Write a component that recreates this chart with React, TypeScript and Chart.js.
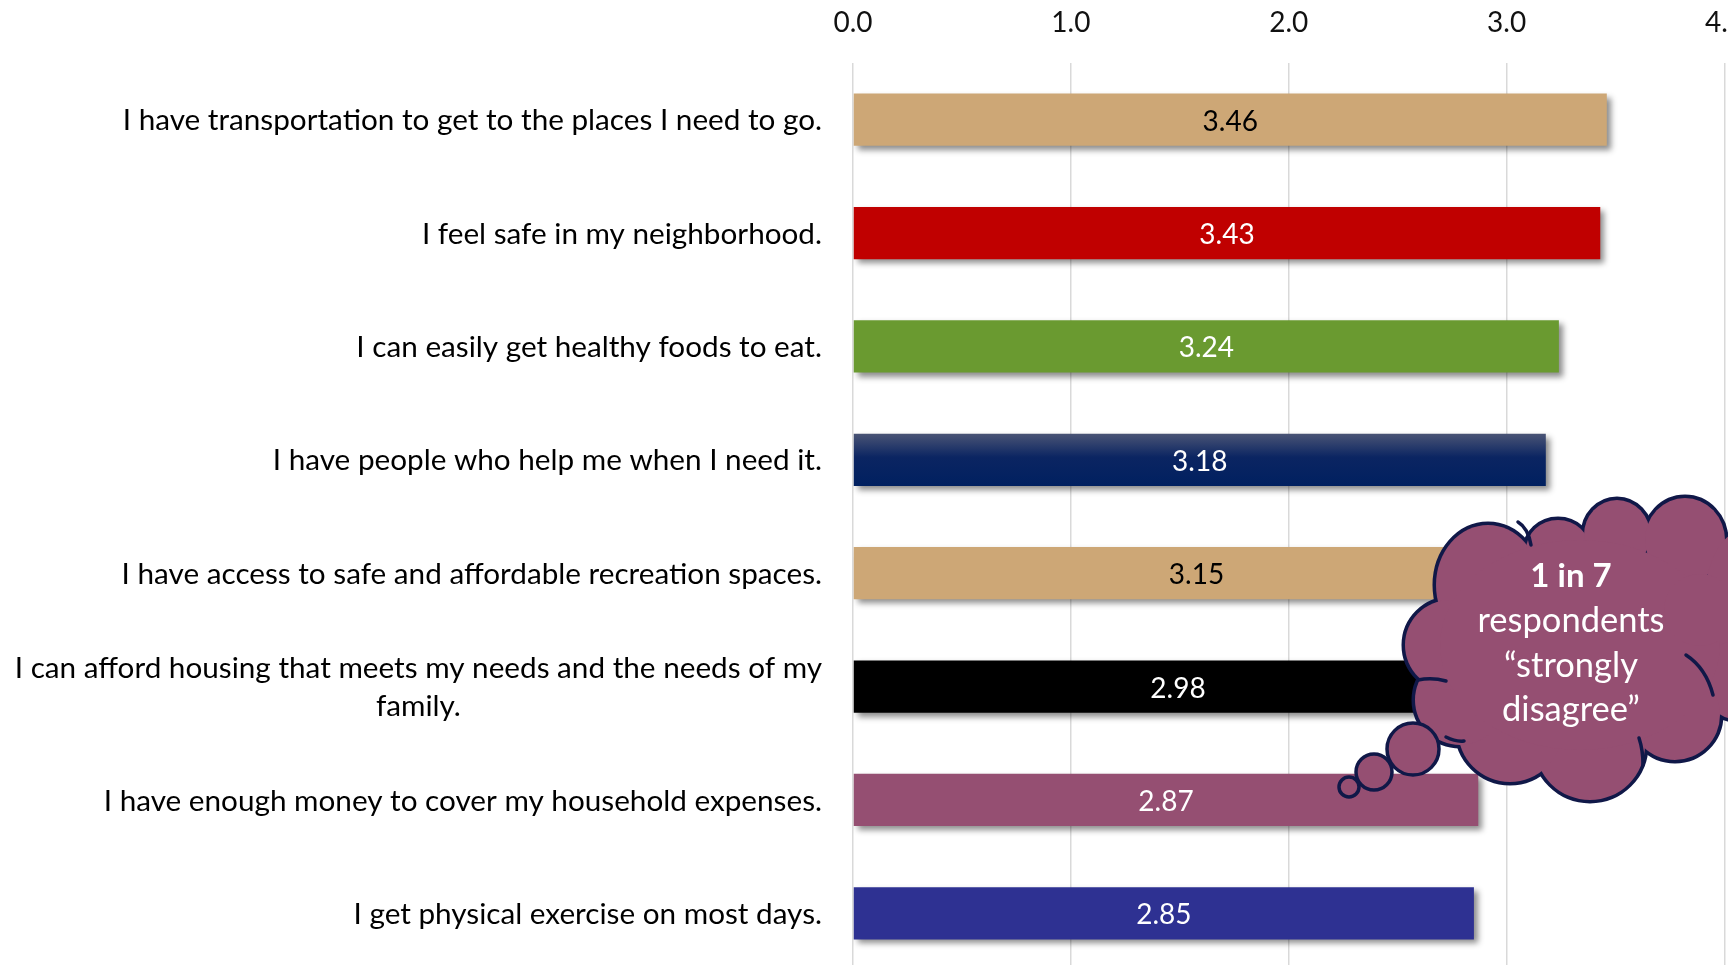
import React, { useEffect, useRef } from "react";
import { Chart, registerables } from "chart.js";

Chart.register(...registerables);

// ---------- data ----------
const categories: string[][] = [
  ["I have transportation to get to the places I need to go."],
  ["I feel safe in my neighborhood."],
  ["I can easily get healthy foods to eat."],
  ["I have people who help me when I need it."],
  ["I have access to safe and affordable recreation spaces."],
  ["I can afford housing that meets my needs and the needs of my", "family."],
  ["I have enough money to cover my household expenses."],
  ["I get physical exercise on most days."],
];
const values = [3.46, 3.43, 3.24, 3.18, 3.15, 2.98, 2.87, 2.85];
const barColors = ["#CDA776", "#C00000", "#6A9A30", "#002060", "#CDA776", "#000000", "#954F72", "#2E3192"];
const valueLabelColors = ["#000000", "#ffffff", "#ffffff", "#ffffff", "#000000", "#ffffff", "#ffffff", "#ffffff"];
const xTicks = [0, 1, 2, 3, 4];
const calloutLines = ["1 in 7", "respondents", "\u201Cstrongly", "disagree\u201D"];

// ---------- styling constants ----------
const FONT = "Lato";
const BAR_PCT = 0.461;
const CLOUD_FILL = "#954F72";
const CLOUD_STROKE = "#101848";

function drawCloud(ctx: CanvasRenderingContext2D) {
  const bumps: [number, number, number, number][] = [
    [1488, 585, 52, 60],
    [1558, 550, 32, 30],
    [1617, 535, 33, 35],
    [1685, 540, 40, 42],
    [1745, 600, 40, 70],
    [1740, 680, 40, 40],
    [1675, 715, 45, 45],
    [1590, 745, 55, 55],
    [1510, 730, 52, 52],
    [1460, 700, 45, 45],
    [1450, 645, 45, 45],
  ];
  ctx.save();
  ctx.lineWidth = 7;
  ctx.strokeStyle = CLOUD_STROKE;
  for (const [x, y, rx, ry] of bumps) {
    ctx.beginPath();
    ctx.ellipse(x, y, rx, ry, 0, 0, Math.PI * 2);
    ctx.stroke();
  }
  ctx.fillStyle = CLOUD_FILL;
  for (const [x, y, rx, ry] of bumps) {
    ctx.beginPath();
    ctx.ellipse(x, y, rx, ry, 0, 0, Math.PI * 2);
    ctx.fill();
  }
  ctx.beginPath();
  ctx.ellipse(1580, 645, 140, 105, 0, 0, Math.PI * 2);
  ctx.fill();
  ctx.beginPath();
  ctx.arc(1700, 610, 36, 0, Math.PI * 2);
  ctx.fill();

  // inner arcs
  ctx.lineWidth = 3.5;
  ctx.lineCap = "round";
  const arcs: number[][] = [
    [1518, 522, 1528, 528, 1531, 545],
    [1686, 655, 1706, 668, 1713, 695],
    [1639, 738, 1643, 750, 1643, 765],
    [1418, 680, 1432, 677, 1446, 681],
    [1446, 737, 1456, 742, 1464, 741],
  ];
  for (const a of arcs) {
    ctx.beginPath();
    ctx.moveTo(a[0], a[1]);
    ctx.quadraticCurveTo(a[2], a[3], a[4], a[5]);
    ctx.stroke();
  }

  // thought bubbles
  const bubbles: [number, number, number][] = [
    [1413, 749, 26],
    [1374, 772, 18],
    [1349, 787, 10],
  ];
  ctx.lineWidth = 3.5;
  for (const [x, y, r] of bubbles) {
    ctx.beginPath();
    ctx.arc(x, y, r, 0, Math.PI * 2);
    ctx.fillStyle = CLOUD_FILL;
    ctx.fill();
    ctx.stroke();
  }

  // text
  ctx.fillStyle = "#ffffff";
  ctx.textAlign = "center";
  ctx.textBaseline = "middle";
  const ys = [576, 621, 666, 710];
  calloutLines.forEach((t, i) => {
    ctx.font = `${i === 0 ? "bold 33px" : "34.5px"} ${FONT}`;
    ctx.fillText(t, 1571, ys[i]);
  });
  ctx.restore();
}

const decorPlugin = {
  id: "decor",
  beforeDatasetsDraw(chart: any) {
    const c = chart.ctx;
    c.save();
    c.shadowColor = "rgba(0,0,0,0.45)";
    c.shadowBlur = 6;
    c.shadowOffsetX = 4;
    c.shadowOffsetY = 4;
  },
  afterDatasetsDraw(chart: any) {
    const c = chart.ctx as CanvasRenderingContext2D;
    c.restore();
    const meta = chart.getDatasetMeta(0);
    c.save();
    c.font = `28px ${FONT}`;
    c.textAlign = "center";
    c.textBaseline = "middle";
    meta.data.forEach((el: any, i: number) => {
      const p = el.getProps(["x", "y", "base"], true);
      c.fillStyle = valueLabelColors[i];
      c.fillText(values[i].toFixed(2), (p.x + p.base) / 2, p.y + 2);
    });
    c.restore();
  },
  afterDraw(chart: any) {
    const c = chart.ctx as CanvasRenderingContext2D;
    const yScale = chart.scales.y;
    const right = chart.chartArea.left - 31;
    c.save();
    c.font = `29.7px ${FONT}`;
    c.fillStyle = "#000000";
    c.textBaseline = "middle";
    const lh = 38;
    categories.forEach((lines, i) => {
      const yc = yScale.getPixelForValue(i) + 1;
      const maxW = Math.max(...lines.map((l) => c.measureText(l).width));
      const y0 = yc - ((lines.length - 1) * lh) / 2;
      lines.forEach((l, j) => {
        if (lines.length === 1) {
          c.textAlign = "right";
          c.fillText(l, right, y0 + j * lh);
        } else {
          c.textAlign = "center";
          c.fillText(l, right - maxW / 2, y0 + j * lh);
        }
      });
    });
    c.restore();
    drawCloud(c);
  },
};

export default function App() {
  const ref = useRef<HTMLCanvasElement | null>(null);
  useEffect(() => {
    if (!ref.current) return;
    const chart = new Chart(ref.current, {
      type: "bar",
      data: {
        labels: categories,
        datasets: [
          {
            data: values,
            borderWidth: 0,
            barPercentage: BAR_PCT,
            categoryPercentage: 1,
            backgroundColor: (ctx: any) => {
              const i = ctx.dataIndex;
              if (i === undefined) return barColors[0];
              if (i === 3 && ctx.chart.scales && ctx.chart.scales.y) {
                const ys = ctx.chart.scales.y;
                const yc = ys.getPixelForValue(i);
                const half = ((ys.height / categories.length) * BAR_PCT) / 2;
                if (isFinite(yc) && isFinite(half) && half > 0) {
                  const g = ctx.chart.ctx.createLinearGradient(0, yc - half, 0, yc + half);
                  g.addColorStop(0, "#4a5475");
                  g.addColorStop(0.45, "#0b2562");
                  g.addColorStop(1, "#002060");
                  return g;
                }
              }
              return barColors[i];
            },
          },
        ],
      },
      options: {
        indexAxis: "y",
        responsive: false,
        animation: false,
        devicePixelRatio: 1,
        layout: { padding: { left: 0, top: 0, right: 28, bottom: 5 } },
        plugins: { legend: { display: false }, tooltip: { enabled: false } },
        scales: {
          x: {
            position: "top",
            min: 0,
            max: 4,
            afterBuildTicks: (s: any) => {
              s.ticks = xTicks.map((v) => ({ value: v }));
            },
            afterFit: (s: any) => {
              s.height = 63;
            },
            ticks: {
              callback: (v: any) => Number(v).toFixed(1),
              font: { family: FONT, size: 28 },
              color: "#111111",
              padding: 23,
              maxRotation: 0,
            },
            grid: { color: "#d9d9d9", lineWidth: 1.5, drawTicks: false },
            border: { display: false },
          },
          y: {
            afterFit: (s: any) => {
              s.width = 853;
            },
            ticks: { display: false },
            grid: { display: false },
            border: { display: false },
          },
        },
      },
      plugins: [decorPlugin],
    } as any);
    return () => chart.destroy();
  }, []);
  return (
    <div
      style={{
        position: "fixed",
        left: 0,
        top: 0,
        width: 1728,
        height: 965,
        overflow: "hidden",
        background: "#ffffff",
      }}
    >
      <canvas ref={ref} width={1767} height={975} style={{ width: 1767, height: 975, display: "block" }} />
    </div>
  );
}
